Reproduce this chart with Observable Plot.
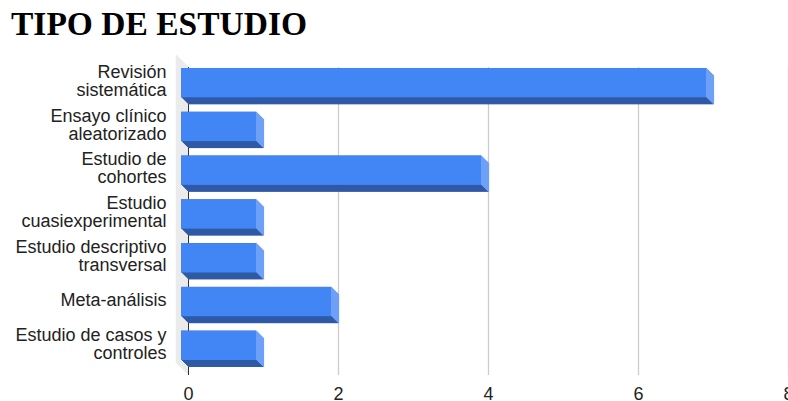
<!DOCTYPE html>
<html>
<head>
<meta charset="utf-8">
<script src="https://cdn.jsdelivr.net/npm/d3@7"></script>
<script src="https://cdn.jsdelivr.net/npm/@observablehq/plot@0.6"></script>
<style>
  html, body { margin: 0; padding: 0; background: #fff; width: 788px; height: 401px; overflow: hidden; }
  #title { font-family: "Liberation Serif", "Times New Roman", serif; font-weight: bold; font-size: 33.5px;
           height: 48px; line-height: 48px; padding-left: 11px; color: #000; white-space: nowrap; }
  #chart svg { display: block; overflow: visible; }
</style>
</head>
<body>
<div id="title">TIPO DE ESTUDIO</div>
<div id="chart"></div>
<script>
const categories = [
  "Revisión sistemática",
  "Ensayo clínico aleatorizado",
  "Estudio de cohortes",
  "Estudio cuasiexperimental",
  "Estudio descriptivo transversal",
  "Meta-análisis",
  "Estudio de casos y controles"
];
const tickLabels = [
  "Revisión\nsistemática",
  "Ensayo clínico\naleatorizado",
  "Estudio de\ncohortes",
  "Estudio\ncuasiexperimental",
  "Estudio descriptivo\ntransversal",
  "Meta-análisis",
  "Estudio de casos y\ncontroles"
];
const values = [7, 1, 4, 1, 1, 2, 1];
const xTicks = [0, 2, 4, 6, 8];

const data = categories.map((c, i) => ({category: c, value: values[i]}));
const depth = 7;
const wallDepth = 12;

const front = "#4285f4", bottom = "#2f5aa6", side = "#6fa0f7";

const marks = [];
for (let k = 1; k <= wallDepth; k++) {
  marks.push(Plot.ruleX([0], {stroke: "#ebebeb", strokeWidth: 1.5, dx: -k, dy: -k}));
}
marks.push(Plot.gridX(xTicks.filter(t => t > 0), {stroke: "#cccccc", strokeOpacity: 1, strokeWidth: 1.3}));
marks.push(Plot.ruleX([0], {stroke: "#333"}));
for (let k = 0; k <= depth; k++) {
  marks.push(Plot.barX(data, {x: "value", y: "category", fill: bottom, dx: -k, dy: -k}));
}
for (let k = 0; k <= depth; k++) {
  marks.push(Plot.tickX(data, {x: "value", y: "category", stroke: side, strokeWidth: 1.2, dx: -k, dy: -k}));
}
marks.push(Plot.barX(data, {x: "value", y: "category", fill: front, dx: -depth, dy: -depth}));
marks.push(Plot.axisX({ticks: xTicks, tickSize: 0, tickPadding: 12, anchor: "bottom", fontSize: 18, fill: "#222"}));
marks.push(Plot.axisY({tickSize: 0, tickPadding: 22, anchor: "left", fontSize: 18, fill: "#222", lineHeight: 1,
  tickFormat: c => tickLabels[categories.indexOf(c)], dy: -9}));

const chart = Plot.plot({
  width: 788,
  height: 353,
  marginLeft: 188,
  marginRight: 0,
  marginTop: 19,
  marginBottom: 26,
  style: {fontFamily: "'Liberation Sans', Arial, sans-serif", fontSize: "18px", color: "#222", background: "transparent", overflow: "visible"},
  x: {domain: [0, 8], ticks: xTicks, label: null},
  y: {domain: categories, paddingInner: 0.33, paddingOuter: 0.183, round: false, label: null},
  marks
});
document.getElementById("chart").appendChild(chart);
</script>
</body>
</html>
